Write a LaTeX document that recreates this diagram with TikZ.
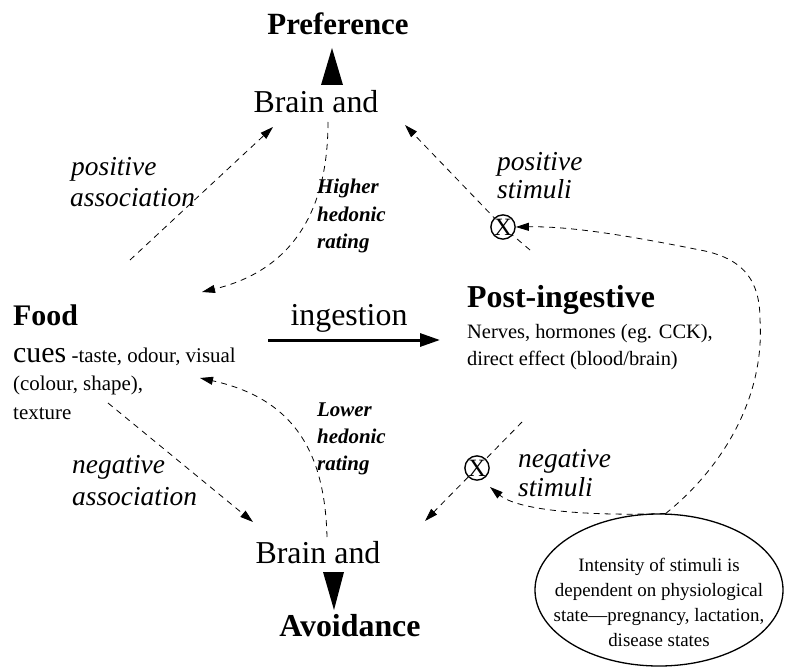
\documentclass[tikz,border=0pt]{standalone}
\usepackage{fontspec}
\setmainfont{Liberation Serif}
\usetikzlibrary{arrows.meta,shapes.geometric}
\begin{document}
\begin{tikzpicture}[x=1bp,y=-1bp,
  lbl/.style={inner sep=0pt, anchor=base west},
  lblc/.style={inner sep=0pt, anchor=base},
  bigb/.style={font=\fontsize{31}{34}\selectfont\bfseries},
  bigr/.style={font=\fontsize{32}{35}\selectfont},
  ital/.style={font=\fontsize{27.5}{30}\selectfont\itshape},
  bital/.style={font=\fontsize{21}{24}\selectfont\bfseries\itshape},
  small/.style={font=\fontsize{21}{24}\selectfont},
  dsh/.style={dash pattern=on 6bp off 5bp, line width=0.8bp},
  tip/.style={-{Triangle[length=13bp,width=8bp]}},
  xnode/.style={circle, draw, fill=white, line width=1.4bp, minimum size=23bp, inner sep=0pt, font=\fontsize{25}{25}\selectfont}
]
\useasboundingbox (0,0) rectangle (785,669);

% main labels
\node[lblc,bigb] (pref) at (338,35) {Preference};
\node[lblc,bigr] (brainT) at (316,113) {Brain and};
\node[lbl,font=\fontsize{30}{33}\selectfont\bfseries] (food) at (13,325) {Food};
\node[lbl,small] (cues) at (13,362) {{\fontsize{30}{33}\selectfont cues} -taste, odour, visual};
\node[lbl,small] (cues2) at (13,390) {(colour, shape),};
\node[lbl,small] (cues3) at (13,419) {texture};
\node[lblc,bigr] (ing) at (349,325) {ingestion};
\node[lbl,font=\fontsize{32}{35}\selectfont\bfseries] (post) at (467,307) {Post-ingestive};
\node[lbl,font=\fontsize{20.5}{24}\selectfont] (post2) at (467,338) {Nerves, hormones (eg. CCK),};
\node[lbl,font=\fontsize{20.5}{24}\selectfont] (post3) at (467,365) {direct effect (blood/brain)};
\node[lblc,bigr] (brainB) at (318,563) {Brain and};
\node[lblc,font=\fontsize{32}{35}\selectfont\bfseries] (avoid) at (350,636) {Avoidance};

% italic labels
\node[lbl,ital] (pa1) at (71,175) {positive};
\node[lbl,ital] (pa2) at (70,206) {association};
\node[lbl,bital] (hh1) at (317,193) {Higher};
\node[lbl,bital] (hh2) at (317,221) {hedonic};
\node[lbl,bital] (hh3) at (317,248) {rating};
\node[lbl,ital] (ps1) at (497,170) {positive};
\node[lbl,ital] (ps2) at (497,198) {stimuli};
\node[lbl,bital] (lh1) at (317,416) {Lower};
\node[lbl,bital] (lh2) at (317,443) {hedonic};
\node[lbl,bital] (lh3) at (317,470) {rating};
\node[lbl,ital] (na1) at (72,473) {negative};
\node[lbl,ital] (na2) at (72,505) {association};
\node[lbl,ital] (ns1) at (518,467) {negative};
\node[lbl,ital] (ns2) at (518,496) {stimuli};

% ellipse
\node[ellipse, draw, line width=1.3bp, minimum width=248bp, minimum height=152bp, inner sep=0pt] (ell) at (659,590) {};
\node[inner sep=0pt, anchor=north, align=center, font=\fontsize{19}{25}\selectfont] (elltext) at (659,558)
  {Intensity of stimuli is\\dependent on physiological\\state---pregnancy, lactation,\\disease states};

% big triangles
\fill (321,85) -- (343,85) -- (332,48) -- cycle;
\fill (323,572) -- (344,572) -- (334,610) -- cycle;

% ingestion arrow
\coordinate (ingS) at (268,340);
\coordinate (ingE) at (440,340);
\draw[line width=3bp, -{Triangle[length=20bp,width=13bp]}] (ingS) -- (ingE);

% dashed connectors
\coordinate (paS) at (130,260); \coordinate (paE) at (273,127);
\draw[dsh,tip] (paS) -- (paE);

\coordinate (hS) at (328,122); \coordinate (hE) at (202,292);
\draw[dsh,tip] (hS) .. controls (328,220) and (285,272) .. (hE);

\coordinate (lS) at (327,537); \coordinate (lE) at (200,378);
\draw[dsh,tip] (lS) .. controls (325,460) and (300,400) .. (lE);

\coordinate (naS) at (108,403); \coordinate (naE) at (253,522);
\draw[dsh,tip] (naS) -- (naE);

\coordinate (psS) at (530,250); \coordinate (psE) at (405,125);
\coordinate (nsS) at (522,422); \coordinate (nsE) at (425,521);
\coordinate (bE) at (490,487);

\draw[dsh,tip] (psS) -- (503,227) -- (psE);
\draw[dsh,tip] (nsS) -- (477,468) -- (nsE);

\node[xnode] (posX) at (503,227) {X};
\node[xnode] (negX) at (477,468) {X};

\draw[dsh,tip] (ell.85) .. controls (720,470) and (765,400) .. (760,320)
   .. controls (760,282) and (745,260) .. (705,251)
   .. controls (640,238) and (575,226) .. (posX.east);
\draw[dsh,tip] (ell.85) .. controls (600,516) and (520,512) .. (bE);
\end{tikzpicture}
\end{document}
